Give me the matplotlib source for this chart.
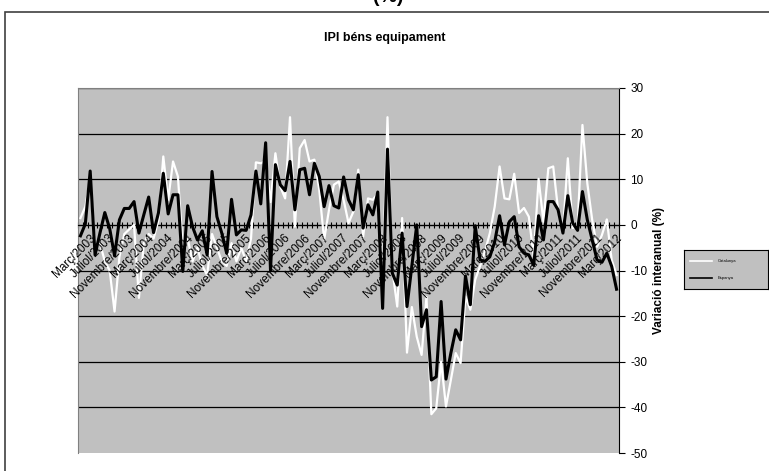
import numpy as np
import matplotlib.pyplot as plt
import matplotlib.transforms as mtrans
from matplotlib.patches import Rectangle

plt.rcParams['font.family'] = ['Liberation Sans', 'DejaVu Sans']
plt.rcParams['axes.unicode_minus'] = False

# monthly series, Març/2003 .. Maig/2012
mesos = ['Març', 'Abril', 'Maig', 'Juny', 'Juliol', 'Agost', 'Setembre',
         'Octubre', 'Novembre', 'Desembre', 'Gener', 'Febrer']

catalunya = [1.5, 4.0, 10.0, -5.0, -4.0, -8.0, -10.0, -19.0, -7.0, -2.0,
             -1.0, 0.0, -16.0, -4.0, -2.0, -3.0, 1.0, 15.0, 5.5, 13.9,
             10.6, -5.0, -3.0, -8.0, -5.0, -9.0, -11.0, -2.0, -5.0, -8.0,
             -9.0, -4.0, -8.0, -5.0, -8.0, -3.0, 13.7, 13.5, 14.0, 5.0,
             15.7, 8.4, 5.8, 23.6, -0.4, 16.8, 18.6, 13.9, 14.3, 7.7,
             -3.3, 3.3, 8.8, 9.5, 5.5, 0.4, 2.9, 12.1, -2.6, 5.8,
             5.5, 6.9, -12.0, 23.6, -9.9, -17.9, 1.5, -28.0, -18.0, -24.5,
             -28.5, -15.8, -41.5, -40.2, -30.0, -39.8, -34.0, -28.1, -30.3, -15.7,
             -18.6, -12.0, -9.0, -5.8, -1.8, 4.0, 12.8, 5.8, 5.6, 11.2,
             2.6, 3.7, 1.8, -7.0, 10.1, 0.7, 12.4, 12.8, 3.3, -1.5,
             14.6, -0.7, -0.2, 21.9, 9.1, 1.1, -4.8, -2.2, 1.2, -7.7,
             -11.0]

espanya = [-2.4, 0.2, 11.8, -6.6, -1.8, 2.7, -0.8, -6.8, 1.1, 3.6,
           3.6, 5.1, -1.8, 2.2, 6.1, -1.7, 2.6, 11.3, 2.4, 6.6,
           6.6, -10.2, 4.2, -0.4, -3.3, -1.3, -6.6, 11.7, 1.8, -1.8,
           -6.2, 5.6, -2.2, -1.1, -1.2, 2.2, 11.8, 4.6, 18.0, -10.0,
           13.2, 8.8, 7.5, 13.9, 3.3, 12.1, 12.4, 6.6, 13.5, 10.6,
           4.0, 8.6, 4.2, 3.7, 10.5, 5.5, 3.3, 11.0, -0.7, 4.4,
           2.2, 7.2, -18.3, 16.6, -10.6, -13.2, -1.8, -17.9, -9.0, 0.0,
           -22.3, -18.6, -34.0, -33.3, -16.8, -33.8, -28.1, -23.0, -25.2, -11.2,
           -17.5, -0.2, -7.7, -8.0, -7.0, -3.7, 2.0, -4.4, 0.7, 1.8,
           -4.8, -6.2, -6.6, -8.8, 2.0, -3.3, 5.1, 5.1, 3.3, -1.8,
           6.4, 0.4, -1.2, 7.3, 1.1, -3.3, -7.7, -8.2, -6.2, -9.1,
           -14.1]

n = len(espanya)
x = np.arange(n)
etiquetes = []
for i in range(n):
    m = i % 12
    any_ = 2003 + (i + 2) // 12
    etiquetes.append(mesos[m] + '/' + str(any_))

fig = plt.figure(figsize=(7.69, 4.71), dpi=100)
W, H = 769, 471
ax = fig.add_axes([78 / W, 1 - 453 / H, (619 - 78) / W, (453 - 88) / H])
ax.set_facecolor('#c0c0c0')

# outer chart border
fig.patches.append(Rectangle((5 / W, -0.1), 1.2, 1.1 - 12 / H,
                             transform=fig.transFigure, fill=False,
                             edgecolor='#404040', lw=1.2))

for v in range(-40, 40, 10):
    ax.axhline(v, color='black', lw=0.9, zorder=1)

ax.plot(x, catalunya, color='white', lw=1.6, zorder=3)
ax.plot(x, espanya, color='black', lw=2.2, zorder=4)

ax.set_xlim(-0.5, n - 0.5)
ax.set_ylim(-50, 30)
ax.yaxis.tick_right()
ax.set_yticks(range(-50, 31, 10))
ax.tick_params(axis='y', labelsize=8.5, length=4, direction='out', pad=4)

for s in ['left', 'top']:
    ax.spines[s].set_color('#808080')
ax.spines['right'].set_color('black')
ax.spines['bottom'].set_position(('data', 0))
ax.spines['bottom'].set_color('black')
ax.set_xticks(np.arange(-0.5, n, 1))
ax.set_xticklabels([])
ax.tick_params(axis='x', direction='inout', length=4, width=0.8)

off = mtrans.ScaledTranslation(9 / 100, -7 / 100, fig.dpi_scale_trans)
for i in range(0, n, 4):
    ax.text(i, 0, etiquetes[i], rotation=45, rotation_mode='anchor',
            ha='right', va='top', fontsize=8.5, transform=ax.transData + off,
            zorder=5)

ax.yaxis.set_label_position('right')
ax.set_ylabel('Variació interanual (%)', fontsize=8.5, fontweight='bold',
              labelpad=4)

fig.text(0.5, 1 - 38 / H, 'IPI béns equipament', ha='center', va='center',
         fontsize=9, fontweight='bold')
fig.text(0.505, 1 + 2 / H, '(%)', ha='center', va='center',
         fontsize=14, fontweight='bold')

# legend box
lax = fig.add_axes([684 / W, 1 - 289 / H, (768 - 684) / W, (289 - 250) / H])
lax.set_facecolor('#c0c0c0')
lax.set_xticks([])
lax.set_yticks([])
for s in lax.spines.values():
    s.set_color('black')
lax.set_xlim(0, 1)
lax.set_ylim(0, 1)
lax.plot([0.07, 0.33], [0.72, 0.72], color='white', lw=1.2)
lax.plot([0.07, 0.33], [0.28, 0.28], color='black', lw=1.2)
lax.text(0.40, 0.72, 'Catalunya', fontsize=3, va='center')
lax.text(0.40, 0.28, 'Espanya', fontsize=3, va='center')

fig.savefig('out.png', dpi=100)
